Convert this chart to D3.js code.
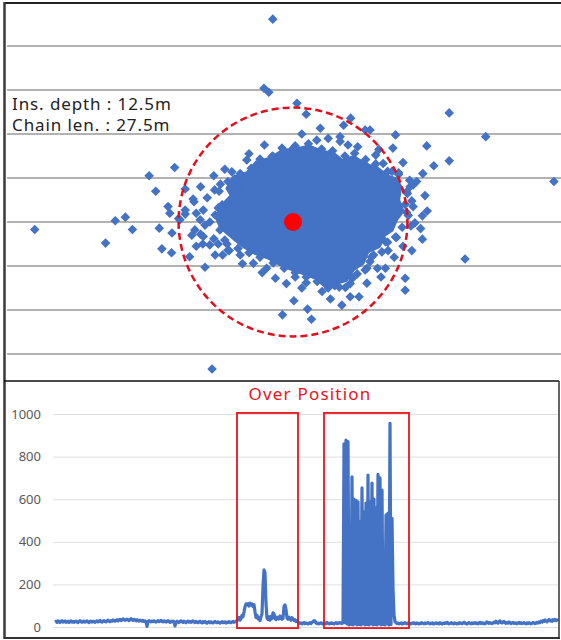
<!DOCTYPE html>
<html>
<head>
<meta charset="utf-8">
<script src="https://cdn.jsdelivr.net/npm/d3@7"></script>
<style>
  body { margin: 0; background: #fff; }
  svg { display: block; font-family: "Noto Sans", "Noto Sans CJK KR", sans-serif; }
</style>
</head>
<body>
<div id="chart"></div>
<script>
/**
 * DATA
 * positions are metres from the mean position, offsets are the plotted distance
 * */
const depthLabel = "Ins. depth : 12.5m";
const chainLabel = "Chain len. : 27.5m";
const gridLevels = [-30, -20, -10, 0, 10, 20, 30, 40];
const meanPosition = [0, 0];
const watchRadius = 26;

// solid part of the point cloud (where the markers overlap completely)
const denseOutline = [
  [-14, 6], [-15, 7.6], [-13.5, 10.2], [-10.4, 11.2], [-8.3, 13.7], [-5.1, 14.5], [-2.4, 16.3],
  [0.9, 16.6], [3.6, 17.3], [6.4, 16.1], [9.1, 15.7], [11.3, 13.9], [13.8, 14.9], [16.5, 13.1],
  [19, 12.4], [21.6, 10.4], [23.5, 9.8], [24.5, 8], [24, 5], [25, 2.5], [23.5, 0.5], [22.5, -1.9],
  [20.8, -3], [19.6, -5.6], [17, -6.8], [15.9, -9.4], [13.8, -10.8], [12.1, -13.3], [9.4, -14],
  [7.3, -14.6], [5.2, -12.8], [2.5, -11.8], [-0.2, -10.8], [-2.9, -9.7], [-5.6, -8.2], [-8.7, -7.1],
  [-11.4, -5.5], [-13.5, -3.8], [-15, -2.5], [-16.5, -1.2], [-17.5, 1.2], [-16.5, 3], [-15.5, 4.5]
];

// single markers
const positions = [
  [-4.6, 46.1], [-6.6, 30.4], [-5.5, 29.5], [0.9, 27.0], [3.0, 24.5], [35.5, 24.8], [43.8, 19.4],
  [30.4, 17.3], [32.0, 12.8], [35.5, 13.9], [23.3, 19.8], [22.7, 16.8], [13.1, 23.6], [16.4, 20.9],
  [11.5, 22.0], [6.2, 21.3], [5.4, 18.6], [10.7, 19.4], [18.8, 15.2], [14.7, 17.1], [0.1, 16.8],
  [-10.5, 14.1], [-4.8, 14.8], [-26.9, 12.4], [-32.7, 10.5], [-31.2, 7.0], [-17.8, 7.3], [-22.7, 5.2],
  [27.3, 8.4], [28.1, 9.2], [59.3, 9.2], [-58.7, -1.7], [-42.6, -4.8], [-40.4, 0.3], [-38.1, 1.1],
  [-36.5, -1.7], [-28.4, 3.5], [-30.4, -1.4], [-29.8, -6.1], [-27.6, -7.0], [-23.5, -7.9], [-20.0, -10.3],
  [-4.0, -12.8], [0.2, -17.9], [-2.4, -21.1], [3.3, -19.8], [4.2, -22.1], [11.1, -18.9], [15.0, -17.0],
  [11.9, -14.9], [6.6, -15.8], [25.5, -12.8], [25.5, -15.5], [39.1, -8.4], [29.4, -3.9], [27.7, -0.2],
  [29.4, 1.4], [-18.4, -33.4], [21.6, -6.5], [19.2, -10.5], [16.4, -10.9], [18.3, -7.5], [16.8, -13.9],
  [-9.0, -9.4], [-20.4, -3.3], [-25.7, 0.5], [-20.4, 2.7], [-13.9, 11.4], [-7.1, 12.2], [-3.0, 13.7],
  [10.7, 18.3], [17.5, 20.9], [16.8, 12.6], [20.5, 13.3], [26.6, 8.0], [27.3, 3.5], [7.7, -13.9],
  [22.5, 11.5], [24, 10.8], [26, 6.5], [27, 4.8], [25.8, 2.2], [26.8, -0.9], [23.5, -3.5],
  [21, -4.5], [25, -5.5], [-17, -5], [-14.5, -6.5], [-12, -7.5], [-20.5, -5], [-23, -3], [-24.5, 1.8],
  [-16.5, 8.6], [-13.2, 9.8], [-6, -10.5], [0.5, -12.5], [3, -13.8], [9.5, -14.5], [13.5, -12.8],
  [17.5, -9], [21, -10.5],
  // close ring round the solid part
  [-16.8, 7], [-14.8, 9.2], [-12, 11], [-9.5, 12.2], [-7.5, 14.3], [-4.6, 15], [-2.5, 16.8],
  [0.5, 17.3], [3.5, 17.8], [6.5, 16.6], [9, 16.2], [11.8, 15], [14, 15.6], [16.5, 14.2], [18.8, 13.2],
  [21.5, 11.5], [24, 11.2], [26.5, 9.5], [25.8, 6.8], [25.5, 4], [26.2, 1.5], [24.8, -1.2], [23.3, -3.4],
  [21.5, -4.6], [20.2, -6.8], [17.8, -8], [16.8, -10.5], [14.6, -11.8], [13, -14], [10.5, -14.8], [8, -15],
  [5.5, -13.5], [3, -12.5], [0.5, -11.5], [-2, -10.5], [-4.5, -9.3], [-7.5, -8], [-10, -7], [-12.5, -6],
  [-15, -5], [-18, -3.8], [-21, -2.8], [-26, 0.8], [-22.5, 4.6],
  // left tail of the cloud
  [-22, 2], [-20, -0.7], [-17.7, 1.6], [-16.6, -1.8], [-18.9, -5.2], [-15.5, -4.1], [-16.1, 3.9],
  [-14.3, 5], [-24.5, 2.7], [-22.3, -1.8], [-17.7, -7.5], [-14.8, -6.4], [-18.9, 0], [-17, 3.2],
  [-21.1, 0.5], [-15.2, -0.7], [-13.9, 2.3], [-13.6, -2.7], [-19.5, 5.5], [-12.5, 7.5],
  // looser ring
  [-21, 8], [-18, 10.5], [-15.5, 12], [-10, 15.5], [-6.5, 17.5], [2, 20], [8, 19], [12.5, 17.5],
  [19.5, 16.5], [25, 13.5], [29.5, 11], [30, 6], [30.5, 2.5], [29, -1.5], [27, -6.5], [23, -8],
  [20, -12.5], [13, -17], [8.5, -17.5], [2, -15], [-1.5, -14], [-7, -11.5], [-11.5, -9.5], [-16, -7.5],
  [-22, -5.5], [-27.5, -2.5], [-28, 2], [-24.5, 7.5]
];

const offsetTicks = [0, 200, 400, 600, 800, 1000];
const overPositionLabel = "Over Position";
const overPositionRanges = [[182, 243], [269, 354]];
const boxValueRange = [-5, 1005];

// offset distance per sample
const offsets = [
  24,27,22,29,25,21,26,30,23,25,28,22,24,27,21,25,29,23,26,22,
  25,28,24,21,27,30,24,22,26,28,23,25,29,24,21,26,28,23,27,25,
  22,26,29,24,27,31,25,23,28,30,26,24,29,32,27,25,30,28,33,29,
  27,31,34,29,32,36,30,33,38,35,31,34,37,33,30,35,39,34,31,36,
  33,29,34,31,28,32,30,27,31,26,29,24,3,26,30,27,24,28,25,29,
  26,23,27,30,25,28,31,26,24,29,27,23,26,30,25,22,27,24,28,25,
  5,23,27,24,21,26,29,25,22,27,24,20,25,28,23,26,22,25,29,24,
  21,26,23,20,24,27,22,19,25,22,26,21,18,23,25,20,24,21,19,23,
  26,22,20,24,21,18,23,25,20,22,24,19,23,21,25,22,20,24,26,22,
  24,27,
  30,38,45,32,40,55,48, 70,95,108,104, 110,98,112,104,108,96,105, 72,45,55,38,
  42,30,48,62, 190,268,255,110, 42,35,48,32,50,40, 66,62,40, 35,46,40,38,52,42,36,40,
  96,104,82, 42,36,46,38,32,44,36,30,34,26,30,22,
  20,17,19,15,18,21,16,19,17,14,18,20,16,22,25,30,28,19,16,18,
  15,17,20,16,14,18,19,16,21,17,15,18,16,19,17,14,18,20,16,19,
  17,21,18,16,20,
  860,20,878,15,870,10,455,12,705,10,600,15,595,10,588,12,494,10,653,15,
  541,10,582,12,713,10,588,15,676,10,600,12,559,10,717,15,700,10,643,12,
  353,10,526,15,535,10,956,12,510,182,60,25,
  20,16,18,15,17,19,14,18,16,20,17,15,19,16,18,14,17,20,16,18,
  15,19,17,14,18,16,20,17,15,19,16,18,21,17,15,18,16,19,14,17,
  19,16,18,15,20,17,14,18,16,19,17,22,18,15,17,20,16,18,15,19,
  17,14,18,16,20,17,15,19,23,18,16,14,18,21,17,15,19,16,18,20,
  16,19,15,18,22,17,20,16,18,15,19,24,20,17,21,18,16,19,23,20,
  27,22,18,25,29,21,19,23,26,20,17,21,18,24,20,16,19,22,17,20,
  18,15,19,22,17,20,16,18,21,17,15,19,16,20,18,15,17,21,19,16,
  18,22,19,24,21,27,23,30,26,33,28,24,30,35,29,32,27,34,31,36,
  30,33,28
];

/**
 * CONSTANTS
 * */
const width = 561, height = 640;
const blue = "#4472C4";
const red = "#E8141B";

const svg = d3.select("#chart")
  .append("svg")
  .attr("width", width)
  .attr("height", height);

/**
 * TOP PANEL - scatter of positions
 * */
const x = d3.scaleLinear().domain([-65, 61]).range([7, 561.4]);
const y = d3.scaleLinear().domain([-36, 50]).range([380.4, 2]);

svg.append("g")
  .selectAll("line")
  .data(gridLevels)
  .join("line")
  .attr("x1", 7)
  .attr("x2", width)
  .attr("y1", d => y(d))
  .attr("y2", d => y(d))
  .attr("stroke", "#b2b2b2")
  .attr("stroke-width", 2);

svg.append("path")
  .datum(denseOutline)
  .attr("d", d3.line().x(d => x(d[0])).y(d => y(d[1])).curve(d3.curveLinearClosed))
  .attr("fill", blue)
  .attr("stroke", blue)
  .attr("stroke-width", 3)
  .attr("stroke-linejoin", "round");

const diamond = d3.symbol(d3.symbolSquare, 46);
svg.append("g")
  .selectAll("path")
  .data(positions)
  .join("path")
  .attr("d", diamond)
  .attr("transform", d => `translate(${x(d[0])},${y(d[1])}) rotate(45)`)
  .attr("fill", blue);

svg.append("circle")
  .attr("cx", x(meanPosition[0]))
  .attr("cy", y(meanPosition[1]))
  .attr("r", x(watchRadius) - x(0))
  .attr("fill", "none")
  .attr("stroke", "#E0101E")
  .attr("stroke-width", 2.5)
  .attr("stroke-dasharray", "7,4");

svg.append("circle")
  .attr("cx", x(meanPosition[0]))
  .attr("cy", y(meanPosition[1]))
  .attr("r", 9)
  .attr("fill", "#FF0000");

svg.selectAll("text.info")
  .data([depthLabel, chainLabel])
  .join("text")
  .attr("class", "info")
  .attr("x", 12)
  .attr("y", (d, i) => 110 + i * 21)
  .attr("font-size", 17)
  .attr("letter-spacing", 0.9)
  .attr("fill", "#222")
  .text(d => d);

/**
 * BOTTOM PANEL - offset time series
 * */
const t = d3.scaleLinear().domain([0, offsets.length - 1]).range([55, 558]);
const v = d3.scaleLinear().domain([0, 1000]).range([627, 414]);

const yAxis = svg.append("g")
  .attr("transform", "translate(53,0)")
  .call(d3.axisLeft(v).tickValues(offsetTicks).tickSize(-505).tickPadding(12).tickFormat(d3.format("d")));
yAxis.select(".domain").remove();
yAxis.selectAll(".tick line").attr("stroke", "#dedede");
yAxis.selectAll(".tick text")
  .attr("fill", "#595959")
  .attr("font-size", 13)
  .attr("font-family", "Noto Sans, sans-serif");

svg.append("path")
  .datum(offsets)
  .attr("d", d3.line().x((d, i) => t(i)).y(d => v(d)))
  .attr("fill", "none")
  .attr("stroke", blue)
  .attr("stroke-width", 3.2)
  .attr("stroke-linejoin", "round");

svg.append("g")
  .selectAll("rect")
  .data(overPositionRanges)
  .join("rect")
  .attr("x", d => t(d[0]))
  .attr("width", d => t(d[1]) - t(d[0]))
  .attr("y", v(boxValueRange[1]))
  .attr("height", v(boxValueRange[0]) - v(boxValueRange[1]))
  .attr("fill", "none")
  .attr("stroke", red)
  .attr("stroke-width", 1.8);

svg.append("text")
  .attr("x", 310)
  .attr("y", 400)
  .attr("text-anchor", "middle")
  .attr("font-size", 17)
  .attr("letter-spacing", 1.2)
  .attr("fill", red)
  .text(overPositionLabel);

/**
 * FRAMES
 * */
svg.append("line").attr("x1", 4).attr("x2", width).attr("y1", 3).attr("y2", 3)
  .attr("stroke", "#222").attr("stroke-width", 2);
svg.append("line").attr("x1", 4.5).attr("x2", 4.5).attr("y1", 2).attr("y2", 639)
  .attr("stroke", "#3a3a3a").attr("stroke-width", 2.5);
svg.append("line").attr("x1", 4).attr("x2", 559).attr("y1", 381).attr("y2", 381)
  .attr("stroke", "#111").attr("stroke-width", 1.5);
svg.append("line").attr("x1", 4).attr("x2", 560).attr("y1", 638).attr("y2", 638)
  .attr("stroke", "#333").attr("stroke-width", 2);
svg.append("line").attr("x1", 559).attr("x2", 559).attr("y1", 381).attr("y2", 638)
  .attr("stroke", "#333").attr("stroke-width", 1.5);
</script>
</body>
</html>
